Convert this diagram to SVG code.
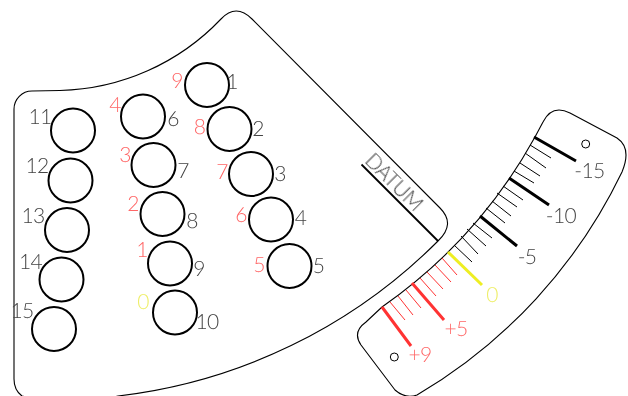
<svg xmlns="http://www.w3.org/2000/svg" width="628" height="396" viewBox="0 0 628 396">
<style>
.plate{fill:none;stroke:#000;stroke-width:1.1}
.hole{fill:none;stroke:#000;stroke-width:2}
.pin{fill:none;stroke:#000;stroke-width:1}
text{font-family:"Lato","Open Sans",sans-serif;font-weight:300;font-size:21px;letter-spacing:-.6px;text-anchor:middle;text-rendering:geometricPrecision;filter:url(#gray)}
.g{fill:#444}.r{fill:#f66}.y{fill:#eeee66}
.maj{stroke-width:3;fill:none}.min{stroke-width:1;fill:none}
.k{stroke:#000}.red{stroke:#f33}.yel{stroke:#eeee22}
</style>
<defs><filter id="gray" x="-50%" y="-50%" width="200%" height="200%" color-interpolation-filters="sRGB"><feOffset dx="0" dy="0"/></filter></defs>
<rect width="628" height="396" fill="#fff"/>
<g id="plate-left">
<path class="plate" d="M14,379V109A18,18 0 0 1 32,91L60,90.500A230,230 0 0 0 221,19Q236,3 252,19L440,208Q456,224 438,241A540,540 0 0 1 118,396L110,398H30L22,396Q14,390 14,379Z"/>
<g id="hole-1"><circle class="hole" cx="207" cy="85" r="22"/><text class="r" x="177" y="88">9</text><text class="g" x="232" y="88.500">1</text></g>
<g id="hole-2"><circle class="hole" cx="229.500" cy="129" r="22"/><text class="r" x="199.500" y="134">8</text><text class="g" x="258" y="135.500">2</text></g>
<g id="hole-3"><circle class="hole" cx="251" cy="174" r="22"/><text class="r" x="222" y="179">7</text><text class="g" x="280" y="180.500">3</text></g>
<g id="hole-4"><circle class="hole" cx="271" cy="219.500" r="22"/><text class="r" x="241" y="222">6</text><text class="g" x="300.500" y="225">4</text></g>
<g id="hole-5"><circle class="hole" cx="289.500" cy="266" r="22"/><text class="r" x="259" y="272">5</text><text class="g" x="318.500" y="272.500">5</text></g>
<g id="hole-6"><circle class="hole" cx="143" cy="116.500" r="22"/><text class="r" x="115" y="112">4</text><text class="g" x="173" y="125.500">6</text></g>
<g id="hole-7"><circle class="hole" cx="153.500" cy="165" r="22"/><text class="r" x="125" y="161.500">3</text><text class="g" x="183" y="177.500">7</text></g>
<g id="hole-8"><circle class="hole" cx="162.500" cy="214" r="22"/><text class="r" x="133" y="211">2</text><text class="g" x="192" y="227.500">8</text></g>
<g id="hole-9"><circle class="hole" cx="170" cy="263.500" r="22"/><text class="r" x="142" y="257">1</text><text class="g" x="199" y="275.500">9</text></g>
<g id="hole-10"><circle class="hole" cx="175" cy="312.500" r="22"/><text class="y" x="143" y="308.500">0</text><text class="g" x="207" y="328.500">10</text></g>
<g id="hole-11"><circle class="hole" cx="73" cy="130.500" r="22"/><text class="g" x="40" y="123.500">11</text></g>
<g id="hole-12"><circle class="hole" cx="70.500" cy="180.500" r="22"/><text class="g" x="37" y="172.500">12</text></g>
<g id="hole-13"><circle class="hole" cx="67" cy="230" r="22"/><text class="g" x="33" y="222.500">13</text></g>
<g id="hole-14"><circle class="hole" cx="61.500" cy="279.500" r="22"/><text class="g" x="30.500" y="269">14</text></g>
<g id="hole-15"><circle class="hole" cx="54" cy="329" r="22"/><text class="g" x="22" y="318">15</text></g>
<g id="datum"><path d="M361.500,164.500L438,241" fill="none" stroke="#000" stroke-width="1.800"/><text class="g" transform="translate(389,187) rotate(45)" x="0" y="0">DATUM</text></g>
</g>
<g id="plate-right">
<path class="plate" d="M535,137L543,122Q552,104 570,113L617,138Q632,148 622,172A520,520 0 0 1 417,395Q405,399 395,390L361,345Q352,332 366,322L382,307A504,504 0 0 0 535,137Z"/>
<circle class="pin" cx="585.700" cy="144" r="4"/>
<circle class="pin" cx="394.300" cy="357" r="4"/>
</g>
<g id="connectors">
<path class="maj k" d="M534,137L576,161M509,178L549,205M480,216L517,246"/>
<path class="maj yel" d="M448,252L482,285"/>
<path class="maj red" d="M412,283L444,320M382,307L411,346"/>
<path class="min k" d="M530,145L551,158M525,153L546,168M520,163L540,176M514,171L534,183M503,186L523,200M497,193L517,207M492,201L511,216M486,208L505,223M473,223L492,238M467,229L486,246M461,236L478,254M454,245L472,262"/>
<path class="min red" d="M442,258L457,275M435,265L451,282M427,272L443,289M420,278L436,296M406,290L421,308M398,296L413,315M390,302L405,320"/>
</g>
<g id="scale-labels">
<text class="g" x="589.500" y="177.500">-15</text>
<text class="g" x="561" y="222.500">-10</text>
<text class="g" x="527" y="263.500">-5</text>
<text class="y" x="492" y="302">0</text>
<text class="r" x="456" y="335.500">+5</text>
<text class="r" x="420" y="362">+9</text>
</g>
</svg>
